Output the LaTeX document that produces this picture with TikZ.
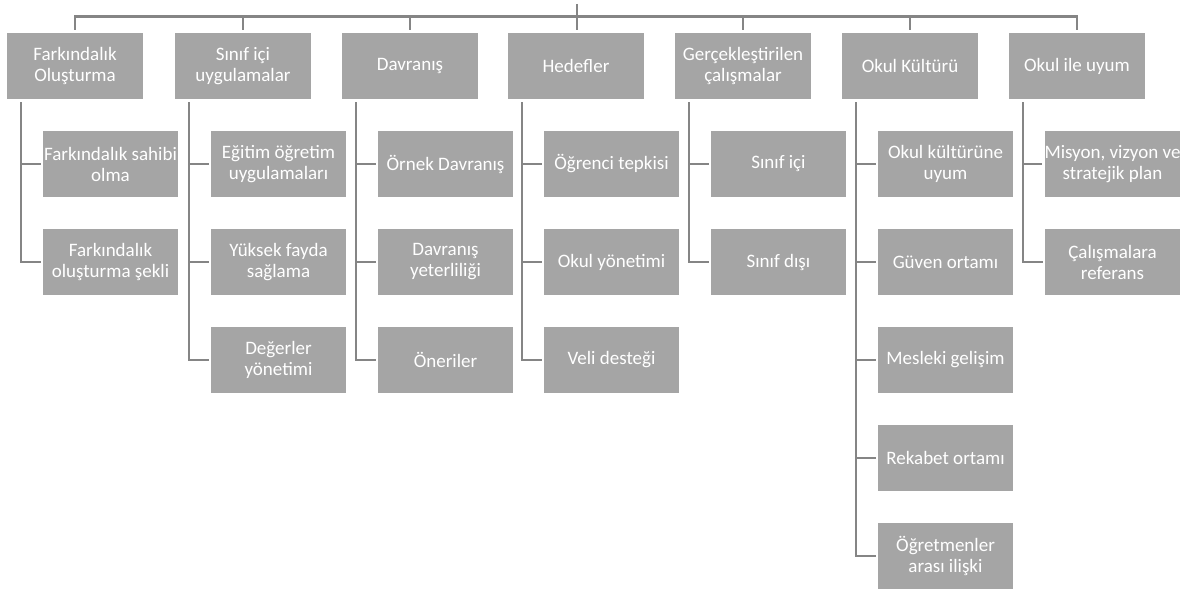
\documentclass[tikz,border=0pt]{standalone}
\usepackage{fontspec}
\setmainfont{Carlito}
\definecolor{boxfill}{HTML}{A5A5A5}
\definecolor{linegray}{HTML}{858585}
\begin{document}
\begin{tikzpicture}[x=1bp,y=-1bp,
  box/.style={fill=boxfill,minimum width=136bp,minimum height=66bp,inner sep=0pt,
    text=white,align=center,font=\fontsize{19bp}{21bp}\selectfont},
  conn/.style={draw=linegray,line width=2.6bp}]
\useasboundingbox (0,0) rectangle (1189,591);
% level 1
\node[box] (p1) at (75,66) {Farkındalık\\Oluşturma};
\node[box] (p2) at (243,66) {Sınıf içi\\uygulamalar};
\node[box] (p3) at (410,66) {Davranış};
\node[box] (p4) at (576,66) {Hedefler};
\node[box] (p5) at (743,66) {Gerçekleştirilen\\çalışmalar};
\node[box] (p6) at (910,66) {Okul Kültürü};
\node[box] (p7) at (1077,66) {Okul ile uyum};
% children
\node[box,minimum width=135bp] (c11) at (110.5,164) {Farkındalık sahibi\\olma};
\node[box,minimum width=135bp] (c12) at (110.5,262) {Farkındalık\\oluşturma şekli};
\node[box,minimum width=135bp] (c21) at (278.5,164) {Eğitim öğretim\\uygulamaları};
\node[box,minimum width=135bp] (c22) at (278.5,262) {Yüksek fayda\\sağlama};
\node[box,minimum width=135bp] (c23) at (278.5,360) {Değerler\\yönetimi};
\node[box,minimum width=135bp] (c31) at (445.5,164) {Örnek Davranış};
\node[box,minimum width=135bp] (c32) at (445.5,262) {Davranış\\yeterliliği};
\node[box,minimum width=135bp] (c33) at (445.5,360) {Öneriler};
\node[box,minimum width=135bp] (c41) at (611.5,164) {Öğrenci tepkisi};
\node[box,minimum width=135bp] (c42) at (611.5,262) {Okul yönetimi};
\node[box,minimum width=135bp] (c43) at (611.5,360) {Veli desteği};
\node[box,minimum width=135bp] (c51) at (778.5,164) {Sınıf içi};
\node[box,minimum width=135bp] (c52) at (778.5,262) {Sınıf dışı};
\node[box,minimum width=135bp] (c61) at (945.5,164) {Okul kültürüne\\uyum};
\node[box,minimum width=135bp] (c62) at (945.5,262) {Güven ortamı};
\node[box,minimum width=135bp] (c63) at (945.5,360) {Mesleki gelişim};
\node[box,minimum width=135bp] (c64) at (945.5,458) {Rekabet ortamı};
\node[box,minimum width=135bp] (c65) at (945.5,556) {Öğretmenler\\arası ilişki};
\node[box,minimum width=135bp] (c71) at (1112.5,164) {Misyon, vizyon ve\\stratejik plan};
\node[box,minimum width=135bp] (c72) at (1112.5,262) {Çalışmalara\\referans};
% top connectors
\coordinate (root) at ([xshift=1bp,yshift=29bp]p4.north);
\draw[conn] ([yshift=3bp]p1.north) |- ([yshift=16bp]p7.north) -- ([yshift=3bp]p7.north);
\foreach \p in {p2,p3,p5,p6}
  \draw[conn] ([yshift=3bp]\p.north) -- ([yshift=16bp]\p.north);
\draw[conn] (root) -- ([xshift=1bp,yshift=3bp]p4.north);
% child connectors
\foreach \p/\cs in {p1/{c11,c12},p2/{c21,c22,c23},p3/{c31,c32,c33},p4/{c41,c42,c43},
                    p5/{c51,c52},p6/{c61,c62,c63,c64,c65},p7/{c71,c72}}
  \foreach \c in \cs
    \draw[conn] ([xshift=14bp,yshift=-3bp]\p.south west) |- ([xshift=-2bp]\c.west);
\end{tikzpicture}
\end{document}
